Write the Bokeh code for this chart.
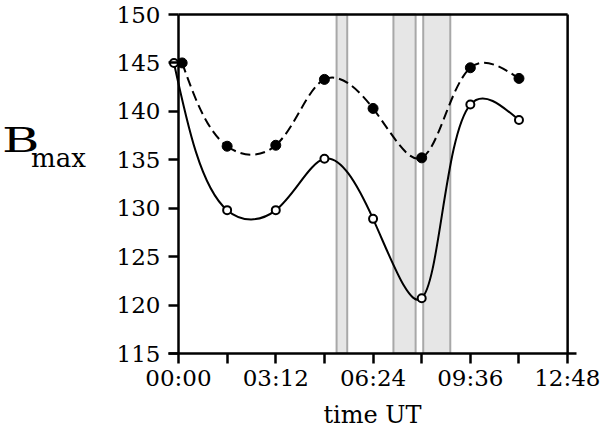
import numpy as np
from bokeh.plotting import figure
from bokeh.models import Range1d, FixedTicker, Div
from bokeh.layouts import row
from bokeh.embed import file_html
from bokeh.resources import INLINE

# ---------------- data ----------------
tick_hours = [0, 3.2, 6.4, 9.6, 12.8]
tick_labels = ["00:00", "03:12", "06:24", "09:36", "12:48"]
minor_hours = [1.6, 4.8, 8.0, 11.2]
y_ticks = [115, 120, 125, 130, 135, 140, 145, 150]

t_filled = [0.12, 1.6, 3.2, 4.8, 6.4, 8.0, 9.6, 11.2]
b_filled = [145.0, 136.4, 136.5, 143.3, 140.3, 135.2, 144.5, 143.4]
t_open = [-0.15, 1.6, 3.2, 4.8, 6.4, 8.0, 9.6, 11.2]
b_open = [145.0, 129.8, 129.8, 135.1, 128.9, 120.7, 140.7, 139.1]

band_start = [5.20, 7.07, 8.05]
band_end = [5.55, 7.80, 8.94]

# ---------------- layout ----------------
PXH = 30.4          # px per hour
PXB = 339 / 35.0    # px per B unit
FW, FH = 408, 341
x_start = -10 / PXH
x_end = x_start + FW / PXH
y_end = 115 + FH / PXB
DIV_W = 100

FONT = "DejaVu Serif"


def smooth(xs, ys, alpha=0.5):
    """Natural parametric cubic spline (centripetal knots) as Bezier segments."""
    P = np.stack([np.asarray(xs) * PXH, np.asarray(ys) * PXB], 1)
    n = len(P)
    h = np.linalg.norm(np.diff(P, axis=0), axis=1) ** alpha
    s = np.diff(P, axis=0) / h[:, None]
    A = np.zeros((n, n)); r = np.zeros((n, 2))
    A[0, 0], A[0, 1] = 2, 1; r[0] = 3 * s[0]
    A[-1, -2], A[-1, -1] = 1, 2; r[-1] = 3 * s[-1]
    for i in range(1, n - 1):
        A[i, i - 1] = h[i]
        A[i, i] = 2 * (h[i - 1] + h[i])
        A[i, i + 1] = h[i - 1]
        r[i] = 3 * (h[i] * s[i - 1] + h[i - 1] * s[i])
    D = np.linalg.solve(A, r)
    C1 = P[:-1] + D[:-1] * h[:, None] / 3
    C2 = P[1:] - D[1:] * h[:, None] / 3
    return dict(x0=P[:-1, 0] / PXH, y0=P[:-1, 1] / PXB,
                x1=P[1:, 0] / PXH, y1=P[1:, 1] / PXB,
                cx0=C1[:, 0] / PXH, cy0=C1[:, 1] / PXB,
                cx1=C2[:, 0] / PXH, cy1=C2[:, 1] / PXB)


p = figure(frame_width=FW, frame_height=FH,
           x_range=Range1d(x_start, x_end), y_range=Range1d(115, y_end),
           output_backend="svg", toolbar_location=None,
           min_border_left=168 - DIV_W, min_border_right=600 - 168 - FW,
           min_border_top=12, min_border_bottom=429 - 12 - FH)
p.outline_line_color = None
p.xgrid.visible = False
p.ygrid.visible = False

# shaded intervals
p.quad(left=band_start, right=band_end, bottom=y_ticks[0], top=y_ticks[-1],
       fill_color="#e6e6e6", line_color="#a8a8a8", line_width=2)

# left axis line, top and right frame lines
lx = [tick_hours[0], tick_hours[0], tick_hours[-1]]
ly = [y_ticks[0], y_ticks[-1], y_ticks[-1]]
lx1 = [tick_hours[0], tick_hours[-1], tick_hours[-1]]
ly1 = [y_ticks[-1], y_ticks[-1], y_ticks[0]]
p.segment(x0=lx, y0=ly, x1=lx1, y1=ly1, line_color="black", line_width=2.5)

p.bezier(**smooth(t_filled, b_filled), line_color="black",
         line_width=2, line_dash="10 5")
p.bezier(**smooth(t_open, b_open), line_color="black", line_width=2)

p.scatter(t_filled, b_filled, size=10, marker="circle", color="black")
p.scatter(t_open, b_open, size=8, marker="circle", fill_color="white",
          line_color="black", line_width=2)

# axes
xa = p.xaxis[0]
xa.ticker = FixedTicker(ticks=tick_hours, minor_ticks=minor_hours)
xa.major_label_overrides = {t: l for t, l in zip(tick_hours, tick_labels)}
xa.axis_line_width = 2.5
xa.major_tick_line_width = 2.5
xa.minor_tick_line_width = 2.5
xa.major_tick_out = 10
xa.major_tick_in = 0
xa.minor_tick_out = 10
xa.minor_tick_in = 0
xa.major_label_standoff = 1
xa.major_label_text_font = FONT
xa.major_label_text_font_size = "23px"
xa.major_label_text_color = "black"
xa.axis_label = "time UT"
xa.axis_label_standoff = 7
xa.axis_label_text_font = FONT
xa.axis_label_text_font_size = "24px"
xa.axis_label_text_font_style = "normal"
xa.axis_label_text_color = "black"

ya = p.yaxis[0]
ya.ticker = FixedTicker(ticks=y_ticks, minor_ticks=[])
ya.axis_line_color = None
ya.major_tick_line_width = 2.5
ya.major_tick_in = 10
ya.major_tick_out = 0
ya.major_label_standoff = 8
ya.major_label_text_font = FONT
ya.major_label_text_font_size = "23px"
ya.major_label_text_color = "black"

label_html = (
    '<div style="position:relative;width:%dpx;height:429px;'
    'font-family:\'DejaVu Serif\';color:black;">'
    '<span style="position:absolute;left:2px;top:129px;font-size:34px;'
    'line-height:22px;height:22px;display:inline-block;overflow:visible;'
    'transform:scaleX(1.5);transform-origin:0 0;">B</span>'
    '<span style="position:absolute;left:31px;top:152px;font-size:26px;'
    'line-height:12px;height:12px;display:inline-block;overflow:visible;">'
    'max</span></div>' % DIV_W
)
div = Div(text=label_html, width=DIV_W, height=429, margin=0)

layout = row(div, p)
open("out.html", "w").write(file_html(layout, INLINE))
